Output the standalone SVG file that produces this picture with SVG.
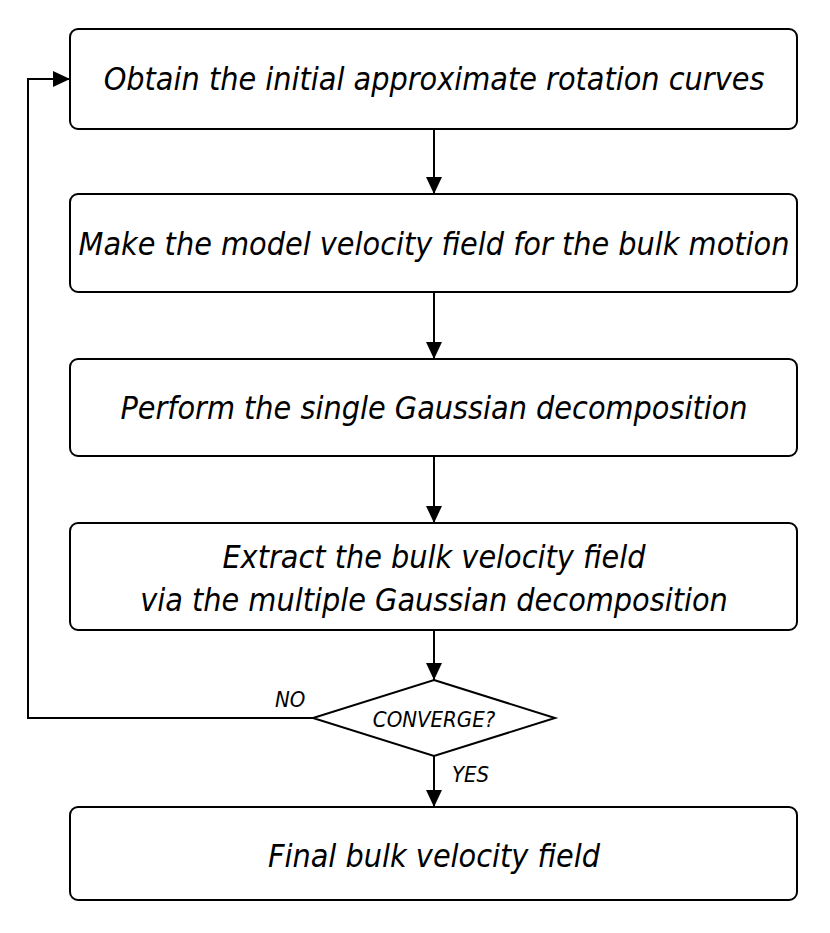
<svg xmlns="http://www.w3.org/2000/svg" width="830" height="933" viewBox="0 0 830 933">
<style>
.box{fill:#fff;stroke:#000;stroke-width:2}
.t{font-family:"DejaVu Sans Condensed","DejaVu Sans",sans-serif;font-style:oblique;font-size:32px;fill:#000;text-anchor:middle}
.s{font-family:"DejaVu Sans Condensed","DejaVu Sans",sans-serif;font-style:oblique;font-size:22px;fill:#000}
.c{fill:none;stroke:#000;stroke-width:2}
</style>
<defs>
<marker id="ah" viewBox="0 0 17 16" refX="17" refY="8" markerWidth="17" markerHeight="16" markerUnits="userSpaceOnUse" orient="auto">
<path d="M0,0 L17,8 L0,16 z" fill="#000"/>
</marker>
</defs>
<rect width="830" height="933" fill="#fff"/>
<g id="n1"><rect class="box" x="70" y="29" width="727" height="100" rx="8"/><text class="t" x="434" y="90">Obtain the initial approximate rotation curves</text></g>
<g id="n2"><rect class="box" x="70" y="194" width="727" height="98" rx="8"/><text class="t" x="434" y="255">Make the model velocity field for the bulk motion</text></g>
<g id="n3"><rect class="box" x="70" y="359" width="727" height="97" rx="8"/><text class="t" x="434" y="419">Perform the single Gaussian decomposition</text></g>
<g id="n4"><rect class="box" x="70" y="523" width="727" height="107" rx="8"/><text class="t" x="434" y="568">Extract the bulk velocity field</text><text class="t" x="434" y="611">via the multiple Gaussian decomposition</text></g>
<g id="n5"><polygon class="box" points="434,680 555,718 434,756 313,718"/><text class="s" x="434" y="727" text-anchor="middle">CONVERGE?</text></g>
<g id="n6"><rect class="box" x="70" y="807" width="727" height="93" rx="8"/><text class="t" x="434" y="867">Final bulk velocity field</text></g>
<g id="connectors">
<line class="c" x1="434" y1="129" x2="434" y2="194" marker-end="url(#ah)"/>
<line class="c" x1="434" y1="292" x2="434" y2="359" marker-end="url(#ah)"/>
<line class="c" x1="434" y1="456" x2="434" y2="523" marker-end="url(#ah)"/>
<line class="c" x1="434" y1="630" x2="434" y2="680" marker-end="url(#ah)"/>
<line class="c" x1="434" y1="756" x2="434" y2="807" marker-end="url(#ah)"/>
<polyline class="c" points="313,718 28,718 28,79 70,79" marker-end="url(#ah)"/>
<text class="s" x="275" y="707">NO</text>
<text class="s" x="452" y="782">YES</text>
</g>
</svg>
